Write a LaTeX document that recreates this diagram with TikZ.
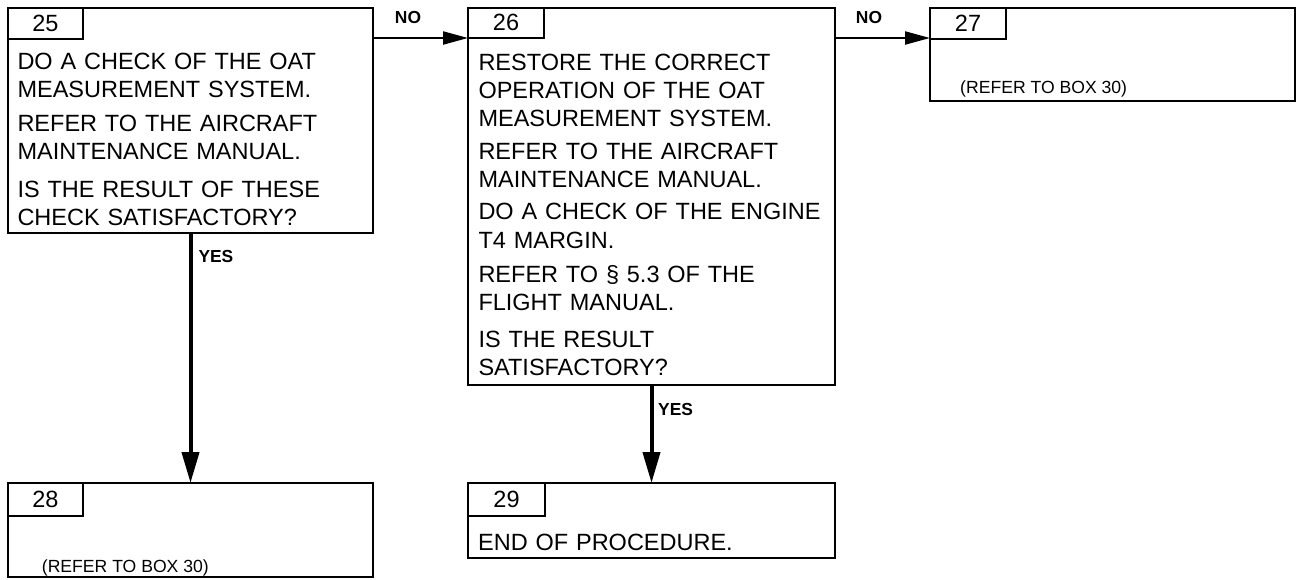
\documentclass[tikz,border=0pt]{standalone}
\usepackage{fontspec}
\setmainfont{Liberation Sans}
\usetikzlibrary{arrows.meta}
\begin{document}
\begin{tikzpicture}[x=1pt,y=-1pt,
  boxframe/.style={draw,line width=2.7pt,rectangle,anchor=north west,inner sep=0pt,outer sep=0pt},
  tabbox/.style={draw,line width=2.7pt,rectangle,anchor=north west,inner sep=0pt,outer sep=0pt,
     minimum width=75pt,font=\fontsize{23.5}{28.3}\selectfont,text height=17pt,text depth=2pt},
  bodytext/.style={anchor=base west,inner sep=0pt,align=left,text width=350pt,
     font=\fontsize{23.5}{28.3}\selectfont},
  smalltext/.style={anchor=base west,inner sep=0pt,font=\fontsize{17.6}{21}\selectfont},
  lbl/.style={inner sep=0pt,font=\fontsize{17.4}{20}\selectfont\bfseries},
  harr/.style={line width=2.2pt,-{Triangle[length=25pt,width=13pt]}},
  varr/.style={line width=4pt,-{Triangle[length=31pt,width=17pt]}}]
\useasboundingbox[fill=white] (0,0) rectangle (1302,579);

% boxes
\node[boxframe,minimum width=365pt,minimum height=225pt] (b25) at (8,8) {};
\node[tabbox,minimum height=31pt] (t25) at (8,8) {25};
\node[boxframe,minimum width=367pt,minimum height=377pt] (b26) at (468,8) {};
\node[tabbox,minimum width=76pt,minimum height=30pt] (t26) at (468,8) {26};
\node[boxframe,minimum width=365pt,minimum height=93pt] (b27) at (930,8) {};
\node[tabbox,minimum width=76pt,minimum height=31pt] (t27) at (930,8) {27};
\node[boxframe,minimum width=365pt,minimum height=94pt] (b28) at (8,483) {};
\node[tabbox,minimum height=33pt] (t28) at (8,483) {28};
\node[boxframe,minimum width=367pt,minimum height=75pt] (b29) at (468,483) {};
\node[tabbox,minimum width=77pt,minimum height=33pt] (t29) at (468,483) {29};

% texts
\node[bodytext] (x25) at (17.3,69) {DO A CHECK OF THE OAT\\
MEASUREMENT SYSTEM.\\[5.7pt]
REFER TO THE AIRCRAFT\\
MAINTENANCE MANUAL.\\[9.7pt]
IS THE RESULT OF THESE\\
CHECK SATISFACTORY?};
\node[bodytext] (x26) at (478.3,70) {RESTORE THE CORRECT\\
OPERATION OF THE OAT\\
MEASUREMENT SYSTEM.\\[4.7pt]
REFER TO THE AIRCRAFT\\
MAINTENANCE MANUAL.\\[3.7pt]
DO A CHECK OF THE ENGINE\\
T4 MARGIN.\\[5.7pt]
REFER TO \S\ 5.3 OF THE\\
FLIGHT MANUAL.\\[8.7pt]
IS THE RESULT\\
SATISFACTORY?};
\node[smalltext] (x27) at (960,93) {(REFER TO BOX 30)};
\node[smalltext] (x28) at (41.7,572) {(REFER TO BOX 30)};
\node[bodytext] (x29) at (478,550) {END OF PROCEDURE.};

% connectors
\draw[harr] ([yshift=-30pt]b25.north east) -- ([yshift=-30pt]b26.north west);
\draw[harr] ([yshift=-30pt]b26.north east) -- ([yshift=-30pt]b27.north west);
\draw[varr] (b25.south) -- (b28.north);
\draw[varr] (b26.south) -- (b29.north);

% labels
\node[lbl,anchor=base] (no1) at (408,23.3) {NO};
\node[lbl,anchor=base] (no2) at (869,23.3) {NO};
\node[lbl,anchor=base west] (yes1) at (198.3,262.7) {YES};
\node[lbl,anchor=base west] (yes2) at (658,415) {YES};
\end{tikzpicture}
\end{document}
